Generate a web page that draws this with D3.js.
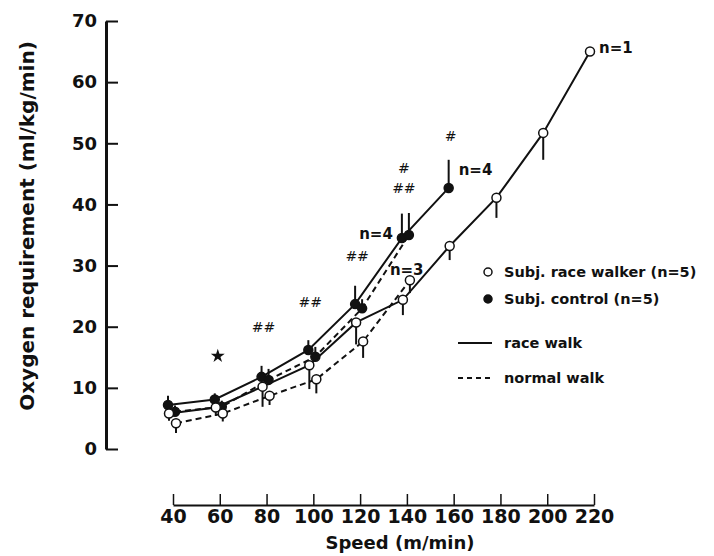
<!DOCTYPE html>
<html>
<head>
<meta charset="utf-8">
<script src="https://cdn.jsdelivr.net/npm/d3@7"></script>
<style>
  html, body { margin: 0; padding: 0; background: #fff; }
  svg { display: block; }
  text { font-family: "DejaVu Sans", "Liberation Sans", sans-serif; font-weight: bold; fill: #111; }
</style>
</head>
<body>
<svg id="chart" width="714" height="556"></svg>
<script>
// ---------- data ----------
const speedTicks = [40, 60, 80, 100, 120, 140, 160, 180, 200, 220];
const yTicks = [0, 10, 20, 30, 40, 50, 60, 70];

const ctrlSpeeds = [40, 60, 80, 100, 120, 140, 160];
const ctrlRace = [7.2, 8.1, 11.8, 16.2, 23.7, 34.5, 42.7];
const ctrlRaceSD = [1.5, 1.0, 1.8, 1.6, 3.0, 4.0, 4.6];

const ctrlNormalSpeeds = [40, 60, 80, 100, 120, 140];
const ctrlNormal = [6.1, 6.9, 11.3, 15.1, 23.0, 35.0];
const ctrlNormalSD = [1.0, 1.0, 1.8, 1.6, 1.5, 3.6];

const walkerRaceSpeeds = [40, 60, 80, 100, 120, 140, 160, 180, 200, 220];
const walkerRace = [5.8, 6.8, 10.2, 13.7, 20.7, 24.4, 33.2, 41.1, 51.7, 65.0];
const walkerRaceSD = [1.2, 1.4, 3.3, 3.9, 3.6, 2.5, 2.3, 3.3, 4.4, 0];

const walkerNormalSpeeds = [40, 60, 80, 100, 120, 140];
const walkerNormal = [4.2, 5.8, 8.7, 11.4, 17.6, 27.6];
const walkerNormalSD = [1.6, 1.3, 1.5, 2.3, 2.7, 2.1];

const sigSpeeds = [80, 100, 120, 140, 140, 160];
const sigValues = [20.0, 24.0, 31.5, 42.6, 45.9, 51.1];
const sigTexts = ["##", "##", "##", "##", "#", "#"];
const starSpeed = 60, starValue = 15.2;

const nLabelTexts = ["n=4", "n=3", "n=4", "n=1"];
const nLabelSpeeds = [140, 140, 160, 220];
const nLabelValues = [35.2, 29.3, 45.6, 65.6];
const nLabelSide = ["left", "left", "right", "right"];

const legendLabels = ["Subj. race walker (n=5)", "Subj. control (n=5)", "race walk", "normal walk"];

// ---------- layout ----------
const svg = d3.select("#chart");
const yAxisX = 106;
const xAxisY = 505;

const x = d3.scaleLinear().domain([40, 220]).range([173, 594]);
const y = d3.scaleLinear().domain([0, 70]).range([449, 21]);

const raceOff = -5, normalOff = 1;

// y axis
const yAxis = svg.append("g")
  .attr("transform", `translate(${yAxisX},0)`)
  .call(d3.axisLeft(y).tickValues(yTicks).tickSizeInner(-12).tickSizeOuter(0).tickPadding(9).tickFormat(d3.format("d")));
yAxis.select(".domain").attr("stroke", "#111").attr("stroke-width", 3);
yAxis.selectAll(".tick line").attr("stroke", "#111").attr("stroke-width", 2);
yAxis.selectAll(".tick text").style("font-size", "18px").attr("font-family", null).attr("fill", "#111");

// x axis
const xAxis = svg.append("g")
  .attr("transform", `translate(0,${xAxisY})`)
  .call(d3.axisBottom(x).tickValues(speedTicks).tickSizeInner(-11).tickSizeOuter(0).tickPadding(4).tickFormat(d3.format("d")));
xAxis.select(".domain").attr("stroke", "#111").attr("stroke-width", 2);
xAxis.selectAll(".tick line").attr("stroke", "#111").attr("stroke-width", 1.5);
xAxis.selectAll(".tick text").style("font-size", "19px").attr("font-family", null).attr("fill", "#111");

// axis titles
svg.append("text")
  .attr("transform", `translate(34,226) rotate(-90)`)
  .attr("text-anchor", "middle")
  .style("font-size", "20px")
  .text("Oxygen requirement (ml/kg/min)");
svg.append("text")
  .attr("x", 400).attr("y", 549)
  .attr("text-anchor", "middle")
  .style("font-size", "18px")
  .text("Speed (m/min)");

// ---------- series ----------
function mk(speeds, vals, sds) { return speeds.map((s, i) => ({ s, v: vals[i], sd: sds[i] })); }
const series = [
  { data: mk(ctrlSpeeds, ctrlRace, ctrlRaceSD), off: raceOff, dash: null, filled: true, dir: 1 },
  { data: mk(ctrlNormalSpeeds, ctrlNormal, ctrlNormalSD), off: normalOff + 1, dash: "6,4", filled: true, dir: 1 },
  { data: mk(walkerRaceSpeeds, walkerRace, walkerRaceSD), off: raceOff + 1, dash: null, filled: false, dir: -1 },
  { data: mk(walkerNormalSpeeds, walkerNormal, walkerNormalSD), off: normalOff + 2, dash: "6,4", filled: false, dir: -1 }
];

const line = d3.line();
series.forEach(sr => {
  svg.append("path")
    .attr("d", line(sr.data.map(d => [x(d.s) + sr.off, y(d.v)])))
    .attr("fill", "none")
    .attr("stroke", "#111")
    .attr("stroke-width", 2)
    .attr("stroke-dasharray", sr.dash);
});
series.forEach(sr => {
  svg.append("g").selectAll("line").data(sr.data.filter(d => d.sd > 0)).join("line")
    .attr("x1", d => x(d.s) + sr.off).attr("x2", d => x(d.s) + sr.off)
    .attr("y1", d => y(d.v)).attr("y2", d => y(d.v + sr.dir * d.sd))
    .attr("stroke", "#111").attr("stroke-width", 2);
});
series.forEach(sr => {
  svg.append("g").selectAll("circle").data(sr.data).join("circle")
    .attr("cx", d => x(d.s) + sr.off).attr("cy", d => y(d.v))
    .attr("r", 4.5)
    .attr("fill", sr.filled ? "#111" : "#fff")
    .attr("stroke", "#111").attr("stroke-width", 1.5);
});

// ---------- significance marks ----------
svg.append("g").selectAll("text").data(sigTexts.map((t, i) => ({ t, s: sigSpeeds[i], v: sigValues[i] }))).join("text")
  .attr("x", d => x(d.s) - 3).attr("y", d => y(d.v))
  .attr("dy", "0.35em")
  .attr("text-anchor", "middle")
  .style("font-size", "14px").style("font-style", "italic").style("font-weight", "normal")
  .attr("fill", "#444")
  .text(d => d.t);
svg.append("path")
  .attr("transform", `translate(${x(starSpeed) - 2},${y(starValue)})`)
  .attr("d", d3.symbol(d3.symbolStar, 60)())
  .attr("fill", "#111");

// ---------- n labels ----------
svg.append("g").selectAll("text").data(nLabelTexts.map((t, i) => ({ t, s: nLabelSpeeds[i], v: nLabelValues[i], side: nLabelSide[i] }))).join("text")
  .attr("x", (d, i) => d.side === "left" ? (i === 0 ? x(d.s) - 14 : x(d.s) - 17) : x(d.s) + 5)
  .attr("y", d => y(d.v)).attr("dy", "0.35em")
  .attr("text-anchor", (d, i) => (d.side === "left" && i === 0) ? "end" : "start")
  .style("font-size", "15px")
  .text(d => d.t);

// ---------- legend ----------
const lg = svg.append("g");
const legY = [272, 299, 343, 378];
lg.append("circle").attr("cx", 488).attr("cy", legY[0]).attr("r", 4).attr("fill", "#fff").attr("stroke", "#111").attr("stroke-width", 1.5);
lg.append("circle").attr("cx", 488).attr("cy", legY[1]).attr("r", 4).attr("fill", "#111").attr("stroke", "#111").attr("stroke-width", 1.5);
lg.append("line").attr("x1", 458).attr("x2", 492).attr("y1", legY[2]).attr("y2", legY[2]).attr("stroke", "#111").attr("stroke-width", 2);
lg.append("line").attr("x1", 458).attr("x2", 492).attr("y1", legY[3]).attr("y2", legY[3]).attr("stroke", "#111").attr("stroke-width", 2).attr("stroke-dasharray", "5,4");
lg.selectAll("text").data(legendLabels).join("text")
  .attr("x", 504)
  .attr("y", (d, i) => legY[i]).attr("dy", "0.35em")
  .style("font-size", "14.5px")
  .text(d => d);
</script>
</body>
</html>
